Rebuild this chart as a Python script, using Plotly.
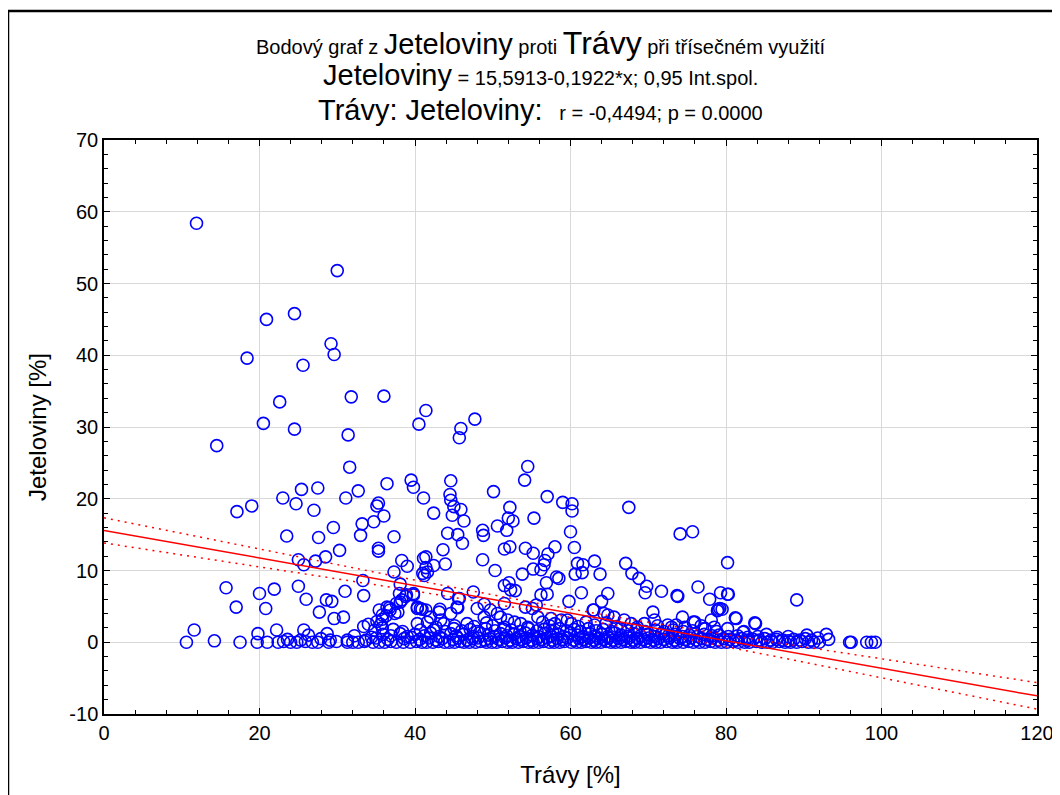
import plotly.graph_objects as go

# ---- data (Trávy %, Jeteloviny %) ----
upper_pts = [(11.9,58.4),(30.0,51.8),(20.9,45.0),(24.5,45.8),(18.4,39.6),(29.2,41.6),(29.6,40.1),(25.6,38.6),
 (22.6,33.5),(31.8,34.2),(36.0,34.3),(20.5,30.5),(24.5,29.7),(31.4,28.9),(40.5,30.4),(41.4,32.3),(14.5,27.4),
 (31.6,24.4),(36.4,22.1),(39.5,22.6),(39.8,21.6),(25.4,21.3),(27.5,21.5),(23.0,20.1),(31.1,20.1),(32.7,21.1),
 (24.7,19.3),(27.0,18.4),(17.1,18.2),(19.0,19.0),(35.3,19.4),(35.1,19.0),(36.0,17.6),(33.2,16.5),(34.7,16.8),
 (29.5,16.0),(23.5,14.8),(27.6,14.6),(33.0,14.9),(37.3,14.7),(41.1,20.1),(35.3,13.1),(35.3,12.7),(30.3,12.8),
 (28.5,11.9),(25.0,11.5),(25.7,10.8),(27.2,11.3),(38.3,11.4),(39.0,10.6),(37.3,9.8),(41.1,11.7),(41.0,9.6),
 (33.3,8.6),(38.1,8.1),(15.7,7.6),(20.0,6.8),(21.9,7.4),(25.0,7.8),(31.0,7.1),(33.4,6.5),(26.0,6.0),(28.6,5.9),
 (29.3,5.7),(17.0,4.9),(20.8,4.7),(27.7,4.2),(29.6,3.3),(30.8,3.5),(38.0,6.8),(38.8,6.4),(39.8,6.8),(38.1,5.6),
 (47.7,31.1),(45.9,29.8),(45.7,28.5),(54.5,24.5),(54.1,22.6),(44.6,22.5),(50.1,21.0),(57.0,20.3),(59.0,19.5),
 (60.2,19.3),(60.2,18.3),(44.5,20.6),(44.6,19.8),(45.0,18.9),(45.9,18.5),(44.8,17.7),(46.3,16.9),(42.4,18.0),
 (52.2,18.8),(52.0,17.3),(52.6,16.9),(55.3,17.3),(67.5,18.8),(44.2,15.2),(45.5,15.0),(46.1,13.8),(48.7,15.6),
 (48.8,14.9),(50.6,16.2),(51.8,15.6),(60.0,15.4),(74.1,15.1),(75.7,15.4),(43.6,12.9),(51.5,13.0),(52.2,13.3),
 (54.2,13.1),(55.2,12.4),(58.0,13.3),(57.1,12.3),(56.7,11.4),(56.6,10.8),(56.2,10.1),(60.5,13.2),(41.4,11.9),
 (48.7,11.5),(43.9,10.9),(42.4,10.7),(41.4,10.4),(41.2,9.3),(41.6,9.8),(50.3,10.0),(53.8,9.5),(55.2,10.2),
 (60.9,11.0),(61.6,10.8),(61.5,9.7),(60.6,9.5),(63.1,11.3),(63.8,9.5),(67.1,11.0),(67.9,9.6),(68.8,8.9),
 (69.8,7.8),(69.6,6.9),(71.7,7.1),(73.7,6.5),(73.8,6.4),(76.4,7.7),(80.2,11.1),(77.9,6.0),(79.0,4.6),(79.3,6.9),
 (80.2,6.7),(58.2,9.1),(58.5,8.9),(56.9,8.3),(56.2,6.6),(57.0,6.7),(61.4,6.9),(64.8,6.8),(64.0,5.7),(62.9,4.5),
 (59.8,5.7),(47.5,7.0),(51.5,7.9),(52.1,8.3),(52.3,7.3),(52.9,7.2),(44.2,6.8),(45.7,6.1),(45.5,4.8),(48.0,4.7),
 (48.9,5.3),(40.3,4.7),(40.9,4.6),(43.2,4.6),(80.3,6.7),(79.5,4.6),(89.1,5.9)]

mid_pts = [(37.8,4.2),(36.7,4.8),(37.4,4.0),(36.3,3.7),(35.8,3.2),(35.4,4.5),(35.8,3.8),(36.4,4.9),(36.8,4.5),
 (37.6,5.4),(38.3,5.9),(38.9,6.6),(39.8,6.6),(40.3,4.9),(40.7,4.7),(41.4,4.5),(42.0,3.5),(43.1,4.2),(43.3,3.1),
 (44.6,4.0),(45.4,4.9),(45.6,6.1),(48.9,3.5),(49.7,4.5),(50.6,4.0),(51.5,5.4),(63.0,4.5),(64.3,4.0),(70.6,4.2),
 (74.4,3.5),(76.0,2.8),(78.1,3.1),(78.5,2.1),(55.6,5.2),(55.1,4.7),(54.2,4.9),(55.8,3.5),(57.5,3.3),(58.8,3.1),
 (59.6,3.1),(64.8,3.8),(65.6,3.5),(66.9,3.1),(70.8,3.1),(51.0,3.5),(51.9,3.1),(81.2,3.4),(83.7,2.7),(82.3,1.5),
 (79.2,4.7),(81.3,3.3),(78.9,4.4),(90.4,1.0),(92.9,1.1),(93.2,0.4),(95.9,0.0),(96.1,0.0),(98.1,0.0),(98.7,0.0),
 (99.2,0.0),(85.2,1.1),(82.2,1.4),(82.8,0.7),(10.6,0.0),(11.6,1.7),(14.2,0.2),(17.5,0.0),(19.8,1.2),(19.7,0.0)]

band_row0 = [(21.0,0),(22.4,0),(23.1,0.1),(24.0,0),(24.8,0),(25.9,0.1),(26.8,0),(27.5,0),(28.9,0),(29.9,0.1),
 (31.3,0),(32.0,0),(32.7,0),(33.5,0.1),(34.6,0),(35.4,0),(36.1,0),(36.9,0.1),(37.6,0),(38.5,0),(39.4,0),(40.2,0.1),
 (40.9,0),(41.5,0),(42.3,0),(43.0,0.1),(43.8,0),(44.4,0),(45.1,0),(45.8,0.1),(46.3,0),(47.0,0),(47.8,0),(48.4,0.1),
 (49.2,0),(49.9,0),(50.5,0),(51.2,0.1),(51.9,0),(52.5,0),(53.3,0),(53.9,0.1),(54.6,0),(55.2,0),(55.9,0),(56.5,0.1),
 (57.3,0),(57.9,0),(58.6,0),(59.2,0.1),(60.1,0),(60.8,0),(61.4,0),(62.0,0.1),(62.7,0),(63.3,0),(63.9,0),(64.6,0.1),
 (65.2,0),(65.8,0),(66.5,0),(67.1,0.1),(67.8,0),(68.3,0),(69.0,0),(69.7,0.1),(70.3,0),(71.0,0),(71.6,0),(72.4,0.1),
 (73.1,0),(73.7,0),(74.5,0),(75.2,0.1),(75.8,0),(76.6,0),(77.3,0),(78.0,0.1),(78.6,0),(79.4,0),(80.1,0),(80.9,0.1),
 (81.6,0),(82.4,0),(83.0,0),(83.9,0.1),(84.6,0),(85.3,0),(86.0,0),(86.9,0.1),(87.6,0),(88.3,0),(89.1,0),(89.8,0.1),
 (90.6,0),(91.3,0),(92.0,0)]

band_row1 = [(23.6,0.4),(25.3,0.3),(27.9,0.5),(29.1,0.3),(31.3,0.3),(33.7,0.3),(35.0,0.6),(36.5,0.4),(38.6,0.5),
 (39.5,0.7),(40.6,0.4),(41.8,0.6),(42.7,0.3),(43.5,0.5),(44.9,0.4),(45.5,0.6),(46.7,0.3),(47.4,0.5),(48.1,0.6),
 (49.0,0.3),(49.6,0.5),(50.8,0.4),(51.6,0.6),(52.2,0.3),(53.0,0.5),(53.7,0.4),(54.3,0.6),(55.0,0.3),(55.7,0.5),
 (56.3,0.4),(57.0,0.6),(57.7,0.3),(58.3,0.5),(59.0,0.4),(59.6,0.6),(60.4,0.3),(61.1,0.5),(61.7,0.4),(62.4,0.6),
 (63.0,0.3),(63.6,0.5),(64.3,0.4),(64.9,0.6),(65.5,0.3),(66.2,0.5),(66.8,0.4),(67.5,0.6),(68.1,0.3),(68.7,0.5),
 (69.4,0.4),(70.0,0.6),(70.7,0.3),(71.3,0.5),(72.0,0.4),(72.7,0.6),(73.4,0.3),(74.1,0.5),(74.8,0.4),(75.5,0.6),
 (76.2,0.3),(76.9,0.5),(77.6,0.4),(78.3,0.6),(79.0,0.3),(79.7,0.5),(80.5,0.4),(81.3,0.3),(82.0,0.5),(82.8,0.3),
 (83.5,0.4),(84.3,0.3),(85.0,0.5),(85.8,0.3),(86.5,0.4),(87.3,0.3),(88.0,0.2),(88.7,0.4),(89.5,0.3),(90.2,0.5),
 (91.0,0.3),(91.8,0.6)]

band_row2 = [(26.3,1.0),(28.7,1.2),(32.2,0.9),(34.4,0.7),(35.9,1.1),(36.9,0.9),(38.1,1.2),(39.0,0.8),(40.0,1.1),
 (41.2,0.9),(42.0,1.3),(43.1,0.8),(44.6,1.2),(45.3,0.9),(46.2,1.1),(47.5,0.8),(48.3,1.3),(49.5,1.0),(50.2,0.8),
 (51.0,1.2),(51.8,0.9),(52.7,1.1),(53.4,0.8),(54.2,1.3),(55.1,1.0),(55.9,0.8),(56.7,1.2),(57.5,0.9),(58.4,1.1),
 (59.1,0.8),(60.0,1.3),(60.9,1.0),(61.6,0.8),(62.5,1.2),(63.2,0.9),(64.0,1.1),(64.8,0.8),(65.7,1.3),(66.5,1.0),
 (67.3,0.8),(68.2,1.2),(69.0,0.9),(69.9,1.1),(70.8,0.8),(71.7,1.2),(72.6,0.9),(73.5,1.1),(74.4,0.8),(75.3,1.0),
 (76.3,0.8),(77.2,1.1),(78.2,0.9),(79.1,1.0),(80.3,0.8),(81.5,0.9),(84.1,0.8),(86.6,0.7),(88.0,0.8)]

band_row3 = [(22.2,1.7),(25.7,1.7),(34.8,1.7),(35.8,2.0),(37.2,1.8),(38.4,1.5),(40.7,1.7),(42.4,1.7),(43.9,1.5),
 (45.0,1.9),(46.0,1.6),(47.1,1.8),(48.0,1.5),(49.1,1.9),(50.3,1.6),(51.4,1.8),(52.4,1.7),(53.5,1.5),(54.6,1.9),
 (55.7,1.6),(56.6,1.8),(57.7,1.5),(58.6,1.9),(59.5,1.6),(60.5,1.8),(61.3,1.5),(62.3,1.9),(63.3,1.6),(64.2,1.8),
 (65.3,1.5),(66.4,1.9),(67.4,1.6),(68.5,1.8),(69.6,1.5),(70.9,1.7),(72.0,1.5),(73.2,1.7),(74.5,1.5),(75.7,1.6),
 (77.3,1.9),(78.8,1.5),(80.2,1.9)]

band_row4 = [(33.4,2.2),(34.0,2.5),(35.1,2.9),(35.6,2.5),(40.3,2.6),(41.6,2.8),(42.7,2.1),(43.7,2.6),(45.1,2.3),
 (46.7,2.6),(47.6,2.2),(49.2,2.7),(50.0,2.3),(51.5,2.1),(52.8,2.8),(53.6,2.6),(54.5,2.1),(56.4,2.8),(57.3,2.3),
 (58.0,2.6),(60.1,2.6),(61.0,2.2),(62.0,2.8),(63.1,2.4),(64.6,2.7),(65.9,2.2),(67.8,2.6),(68.6,2.1),(69.5,2.6),
 (71.2,2.3),(72.5,2.4),(73.0,2.1),(73.6,2.4),(74.7,2.1),(75.8,2.8),(76.8,2.3),(77.3,1.9),(83.8,2.6)]

# regression from the chart title and its 0.95 confidence band
intercept = 15.5913
slope = -0.1922
band_min_half = 0.55
band_center = 58.2
band_curv = 0.000815

x_ticks = [0, 20, 40, 60, 80, 100, 120]
y_ticks = [-10, 0, 10, 20, 30, 40, 50, 60, 70]

all_pts = upper_pts + mid_pts + band_row0 + band_row1 + band_row2 + band_row3 + band_row4
px = [p[0] for p in all_pts]
py = [p[1] for p in all_pts]

line_x = [i * 0.5 for i in range(0, 241)]
line_y = [intercept + slope * x for x in line_x]
half = [(band_min_half ** 2 + band_curv * (x - band_center) ** 2) ** 0.5 for x in line_x]
up_y = [a + h for a, h in zip(line_y, half)]
lo_y = [a - h for a, h in zip(line_y, half)]

fig = go.Figure()
fig.add_trace(go.Scatter(x=px, y=py, mode="markers",
                         marker=dict(symbol="circle-open", size=12, color="#0000FF",
                                     line=dict(width=1.6, color="#0000FF")),
                         hoverinfo="x+y"))
fig.add_trace(go.Scatter(x=line_x, y=line_y, mode="lines", line=dict(color="#FF0000", width=1.5)))
fig.add_trace(go.Scatter(x=line_x, y=up_y, mode="lines", line=dict(color="#FF0000", width=1.5, dash="2px,5px")))
fig.add_trace(go.Scatter(x=line_x, y=lo_y, mode="lines", line=dict(color="#FF0000", width=1.5, dash="2px,5px")))

font = "Liberation Sans, Arial, sans-serif"
axis_common = dict(showline=True, linecolor="black", linewidth=1.5, mirror="allticks",
                   ticks="inside", ticklen=6, tickcolor="black", tickwidth=1,
                   showgrid=True, gridcolor="#d9d9d9", gridwidth=1, zeroline=False,
                   automargin=False,
                   tickfont=dict(family=font, size=20, color="black"))
fig.update_xaxes(range=[0, 120], tickvals=x_ticks, ticktext=[str(v) for v in x_ticks],
                 minor=dict(dtick=4, ticks="inside", ticklen=4, tickcolor="black", showgrid=False),
                 title=dict(text="Trávy [%]", font=dict(family=font, size=24, color="black"), standoff=23),
                 **axis_common)
fig.update_yaxes(range=[-10, 70], tickvals=y_ticks, ticktext=[str(v) for v in y_ticks],
                 minor=dict(dtick=2, ticks="inside", ticklen=4, tickcolor="black", showgrid=False),
                 title=dict(text="Jeteloviny [%]", font=dict(family=font, size=24, color="black"), standoff=16),
                 **axis_common)

# positions below are in screen pixels of the plot frame: x 104..1037, y 140..714
tx = (540 - 104) / 933
small = 20
fig.add_annotation(xref="paper", yref="paper", x=tx, y=(714 - 43) / 574, yanchor="middle",
                   xanchor="center", showarrow=False,
                   text="Bodový graf z <span style='font-size:29px'>Jeteloviny</span> proti <span style='font-size:32px'>Trávy</span> při třísečném využití",
                   font=dict(family=font, size=small, color="black"))
fig.add_annotation(xref="paper", yref="paper", x=tx, y=(714 - 75) / 574, yanchor="middle",
                   xanchor="center", showarrow=False,
                   text="<span style='font-size:29px'>Jeteloviny</span> = 15,5913-0,1922*x; 0,95 Int.spol.",
                   font=dict(family=font, size=small, color="black"))
fig.add_annotation(xref="paper", yref="paper", x=tx, y=(714 - 110) / 574, yanchor="middle",
                   xanchor="center", showarrow=False,
                   text="<span style='font-size:29px'>Trávy: Jeteloviny:</span>&nbsp;&nbsp;&nbsp;r = -0,4494; p = 0.0000",
                   font=dict(family=font, size=small, color="black"))

# outer frame of the graph window
fig.add_shape(type="rect", xref="paper", yref="paper",
              x0=(8 - 104) / 933, x1=(1085 - 104) / 933, y0=(714 - 820) / 574, y1=(714 - 11) / 574,
              line=dict(color="black", width=2.5), layer="above")

# page body has an 8px margin, so plot frame offsets are reduced by 8
fig.update_layout(width=1060, height=795, margin=dict(l=96, r=31, t=132, b=89),
                  plot_bgcolor="white", paper_bgcolor="white", showlegend=False,
                  font=dict(family=font, color="black"))
fig.write_html("out.html")
